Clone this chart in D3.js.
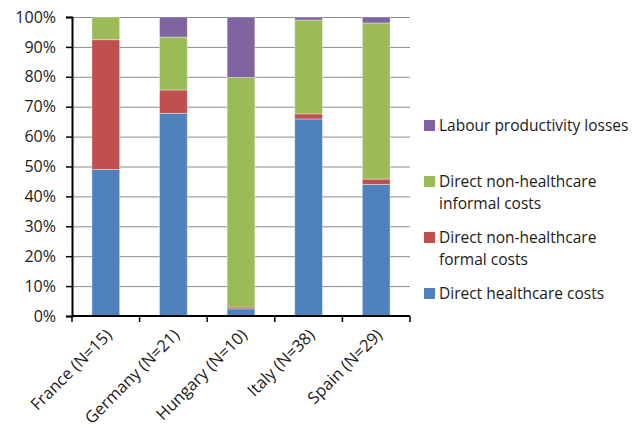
<!DOCTYPE html>
<html>
<head>
<meta charset="utf-8">
<script src="https://cdn.jsdelivr.net/npm/d3@7.9.0/dist/d3.min.js"></script>
<style>
  body { margin: 0; background: #fff; }
  text { font-family: "Open Sans", "Liberation Sans", sans-serif; fill: #1a1a1a; }
</style>
</head>
<body>
<div id="chart"></div>
<script>
const countries = ["France (N=15)", "Germany (N=21)", "Hungary (N=10)", "Italy (N=38)", "Spain (N=29)"];
const seriesNames = ["Direct healthcare costs", "Direct non-healthcare formal costs", "Direct non-healthcare informal costs", "Labour productivity losses"];
const directHealthcare = [49.0, 67.8, 2.4, 65.9, 44.0];
const formalCosts = [43.4, 7.8, 0.6, 1.7, 1.8];
const informalCosts = [7.6, 17.7, 76.8, 31.4, 52.2];
const labourLosses = [0.0, 6.7, 20.2, 1.0, 2.0];
const yTicks = [0, 10, 20, 30, 40, 50, 60, 70, 80, 90, 100];
const colors = ["#4f81bd", "#c0504d", "#9bbb59", "#8064a2"];

const width = 644;
const height = 427;

const svg = d3.select("#chart")
  .append("svg")
  .attr("width", width)
  .attr("height", height);

const x = d3.scaleBand()
  .domain(countries)
  .range([72, 410])
  .paddingInner(0.59)
  .paddingOuter(0.295);

const y = d3.scaleLinear()
  .domain([0, 100])
  .range([316, 17]);

// gridlines
svg.append("g")
  .selectAll("line")
  .data(yTicks.slice(1))
  .join("line")
  .attr("x1", 72)
  .attr("x2", 410)
  .attr("y1", d => y(d) + 0.5)
  .attr("y2", d => y(d) + 0.5)
  .attr("stroke", "#8c8c8c")
  .attr("stroke-width", 1);

// stack the series
const rows = countries.map((c, i) => ({
  country: c,
  s0: directHealthcare[i],
  s1: formalCosts[i],
  s2: informalCosts[i],
  s3: labourLosses[i]
}));
const stacked = d3.stack().keys(["s0", "s1", "s2", "s3"])(rows);

svg.append("g")
  .selectAll("g")
  .data(stacked)
  .join("g")
  .attr("fill", (d, i) => colors[i])
  .selectAll("rect")
  .data(d => d.filter(p => p[1] - p[0] > 0))
  .join("rect")
  .attr("x", d => x(d.data.country))
  .attr("y", d => y(d[1]))
  .attr("width", x.bandwidth())
  .attr("height", d => y(d[0]) - y(d[1]))
  .attr("stroke", "rgba(255,255,255,0.45)")
  .attr("stroke-width", 0.8);

// y axis
const yAxis = svg.append("g")
  .attr("transform", "translate(72,0)")
  .call(d3.axisLeft(y).tickValues(yTicks).tickSize(6).tickPadding(10).tickFormat(d => d + "%"));
yAxis.select(".domain").attr("stroke", "#000").attr("stroke-width", 2);
yAxis.selectAll(".tick line").attr("stroke", "#000").attr("stroke-width", 1.5);
yAxis.selectAll(".tick text")
  .style("font-size", "16px")
  .attr("fill", "#1a1a1a");

// x axis
const xAxis = svg.append("g")
  .attr("transform", "translate(0,316)")
  .call(d3.axisBottom(x).tickSize(0).tickFormat(""));
xAxis.select(".domain").attr("d", "M72,0H410").attr("stroke", "#000").attr("stroke-width", 2);
xAxis.selectAll(".tick").remove();

const boundaries = [72].concat(countries.map(c => x(c) + x.bandwidth() / 2 + x.step() / 2));
xAxis.selectAll("line.cat")
  .data(boundaries)
  .join("line")
  .attr("class", "cat")
  .attr("x1", d => d)
  .attr("x2", d => d)
  .attr("y1", 0)
  .attr("y2", 6)
  .attr("stroke", "#000")
  .attr("stroke-width", 1.5);

svg.append("g")
  .selectAll("text")
  .data(countries)
  .join("text")
  .attr("transform", d => `translate(${x(d) + x.bandwidth() / 2 + 3},332) rotate(-45)`)
  .attr("text-anchor", "end")
  .attr("dy", "0.35em")
  .style("font-size", "16.5px")
  .text(d => d);

// legend
const legendItems = [
  { i: 3, lines: ["Labour productivity losses"], y: 126 },
  { i: 2, lines: ["Direct non-healthcare", "informal costs"], y: 182 },
  { i: 1, lines: ["Direct non-healthcare", "formal costs"], y: 238 },
  { i: 0, lines: ["Direct healthcare costs"], y: 294 }
];

const legend = svg.append("g");
const item = legend.selectAll("g")
  .data(legendItems)
  .join("g")
  .attr("transform", d => `translate(424,${d.y})`);

item.append("rect")
  .attr("x", 0)
  .attr("y", -6)
  .attr("width", 11)
  .attr("height", 11)
  .attr("fill", d => colors[d.i]);

item.append("text")
  .style("font-size", "15.5px")
  .selectAll("tspan")
  .data(d => d.lines)
  .join("tspan")
  .attr("x", 15)
  .attr("y", (d, k) => k * 22)
  .attr("dy", "0.35em")
  .text(d => d);
</script>
</body>
</html>
